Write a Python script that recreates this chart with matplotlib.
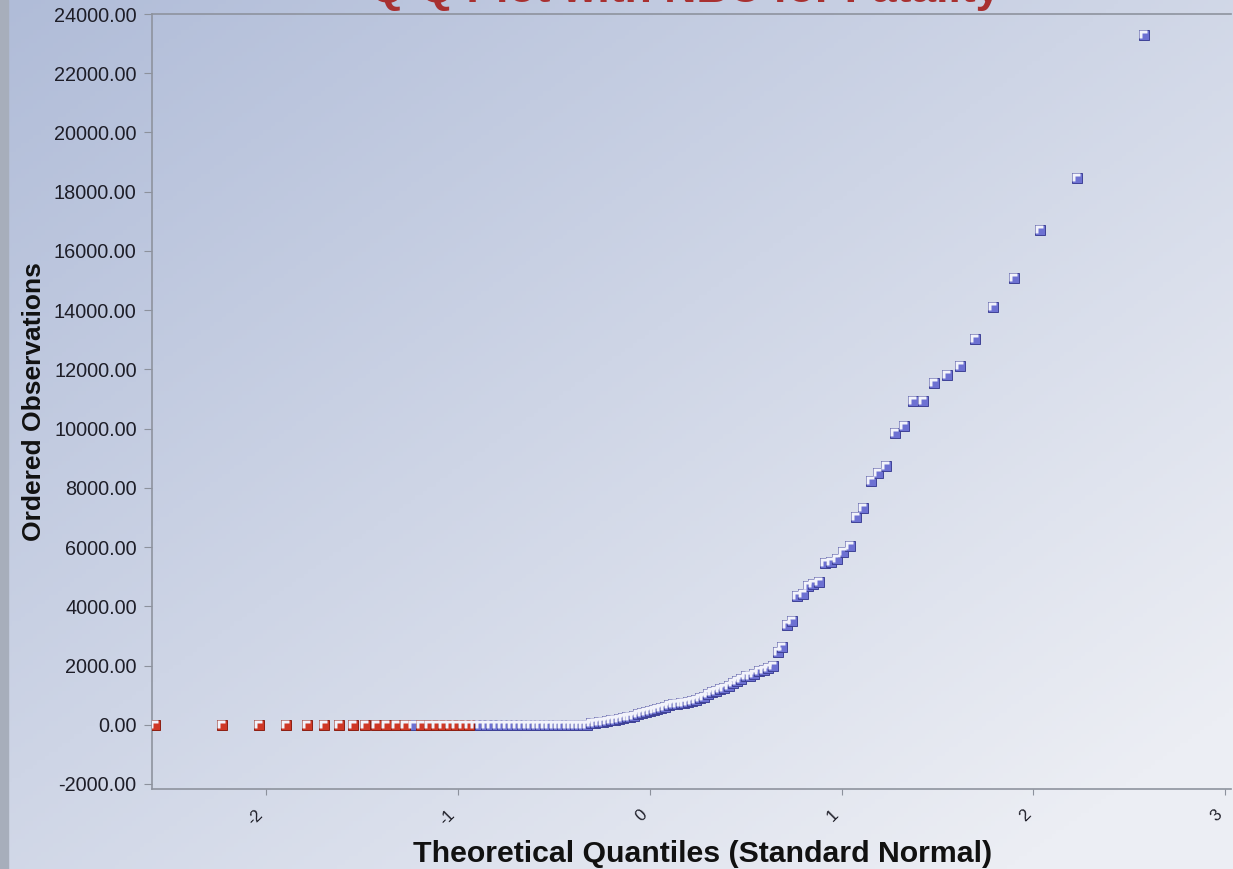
import numpy as np
import matplotlib
matplotlib.use("Agg")
import matplotlib.pyplot as plt
from matplotlib.path import Path
from statistics import NormalDist

plt.rcParams['font.family'] = ['Liberation Sans', 'DejaVu Sans']

# ordered observations (sorted sample, n = 125)
zeros = [0.0] * 47
low_vals = [70, 70, 100, 100, 140, 170, 170, 200, 240, 270,
            270, 310, 370, 410, 440, 470, 510, 540, 580, 610,
            680, 710, 710, 750, 750, 780, 810, 850, 910, 950,
            1050, 1120, 1150, 1220, 1250, 1320, 1420, 1490, 1560, 1630,
            1660, 1730, 1800, 1860, 1900, 1970]
high_vals = [2470, 2640, 3360, 3490, 4340, 4410, 4680, 4750, 4810, 5460,
             5490, 5590, 5830, 6030, 7020, 7320, 8240, 8510, 8750, 9860,
             10100, 10920, 10920, 11530, 11800, 12100, 13020, 14100, 15080, 16710,
             18470, 23300]
observed = np.array(zeros + low_vals + high_vals, dtype=float)

# ranks drawn in red (1-based)
red_ranks = [1, 2, 3, 4, 5, 6, 7, 8, 9, 10, 11, 12, 13,
             15, 16, 17, 18, 19, 20, 21, 22]

yticks = [-2000, 0, 2000, 4000, 6000, 8000, 10000, 12000,
          14000, 16000, 18000, 20000, 22000, 24000]
xticks = [-2, -1, 0, 1, 2, 3]

n = len(observed)
ranks = np.arange(1, n + 1)
# Blom plotting positions
theo = np.array([NormalDist().inv_cdf((i - 0.375) / (n + 0.25)) for i in ranks])
is_red = np.isin(ranks, red_ranks)

W, H = 1233, 869
fig = plt.figure(figsize=(W / 100, H / 100), dpi=100)

# background gradient
bg = fig.add_axes([0, 0, 1, 1], zorder=-5)
gx, gy = np.meshgrid(np.linspace(0, 1, 300), np.linspace(0, 1, 200))
t = np.clip(0.55 * gx + 0.55 * gy, 0, 1)
c0 = np.array([176, 188, 216]) / 255
c1 = np.array([236, 238, 244]) / 255
img = c0[None, None, :] * (1 - t[..., None]) + c1[None, None, :] * t[..., None]
bg.imshow(img, aspect='auto', extent=[0, 1, 0, 1], origin='upper')
bg.add_patch(plt.Rectangle((0, 0), 8 / W, 1, color='#a7aebb', transform=bg.transAxes))
bg.set_xlim(0, 1)
bg.set_ylim(0, 1)
bg.axis('off')

ax = fig.add_axes([152 / W, (H - 789) / H, (1231 - 152) / W, (789 - 14) / H])
ax.set_facecolor('none')

# bevelled square markers: base square plus an L-shaped highlight
hl = Path([(-0.72, 0.72), (0.45, 0.72), (0.45, 0.35), (-0.35, 0.35),
           (-0.35, -0.45), (-0.72, -0.45), (-0.72, 0.72)])
ms = 7.0
for mask, face, edge in [(~is_red, '#6d71d2', '#3e4196'), (is_red, '#cf3826', '#8c1e12')]:
    ax.plot(theo[mask], observed[mask], 's', ms=ms, mfc=face, mec=edge, mew=0.7,
            linestyle='none', zorder=3)
    ax.plot(theo[mask], observed[mask], marker=hl, ms=ms, mfc='#f2f3fb', mec='none',
            linestyle='none', zorder=4)

ax.set_xlim(-2.594, 3.03)
ax.set_ylim(-2170, 24000)
ax.set_yticks(yticks)
ax.set_yticklabels([f'{v:.2f}' for v in yticks], fontsize=14.3, color='#1e1e28')
ax.set_xticks(xticks)
ax.set_xticklabels([str(v) for v in xticks], fontsize=12, rotation=45,
                   ha='right', va='top', color='#1e1e28')
ax.tick_params(axis='y', length=6, width=0.8, color='#8c919c', pad=5)
ax.tick_params(axis='x', length=4, width=0.8, color='#8c919c', pad=9)

for side in ['left', 'bottom', 'top']:
    ax.spines[side].set_color('#8e939e')
    ax.spines[side].set_linewidth(1.2)
ax.spines['right'].set_visible(False)

ax.set_xlabel('Theoretical Quantiles (Standard Normal)', fontsize=21.8,
              fontweight='bold', color='#111111')
ax.xaxis.set_label_coords(0.51, -0.066)
ax.set_ylabel('Ordered Observations', fontsize=19, fontweight='bold',
              color='#111111', labelpad=6)

fig.text(0.556, (H - 2) / H, 'Q-Q Plot with NBC for Fatality', fontsize=32,
         fontweight='bold', color='#a83030', ha='center', va='baseline')

fig.savefig('out.png', dpi=100)
